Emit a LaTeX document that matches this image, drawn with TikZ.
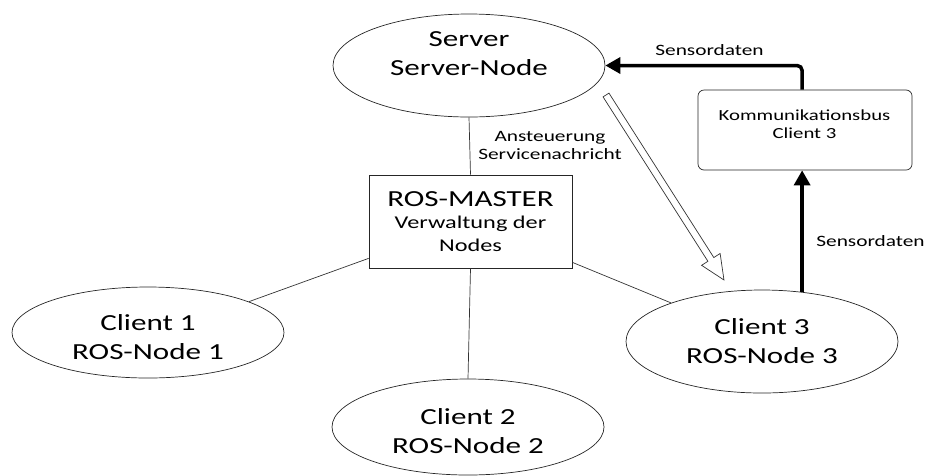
\documentclass[tikz,border=0pt]{standalone}
\usepackage{fontspec}
\setmainfont[FakeStretch=1.35]{Carlito}
\usetikzlibrary{shapes.geometric,arrows.meta,calc}
\newcommand\fbig{\fontsize{23}{29}\selectfont}
\newcommand\fmid{\fontsize{18}{22.5}\selectfont}
\newcommand\fsml{\fontsize{15.8}{17.5}\selectfont}
\newcommand\fbus{\fontsize{15.4}{18}\selectfont}
\begin{document}
\begin{tikzpicture}[x=1pt,y=-1pt,
  ell/.style={ellipse, draw=black!85, line width=0.7pt, inner sep=0pt},
  txt/.style={align=center, inner sep=0pt, text=black},
  conn/.style={line width=0.7pt, draw=black!80},
  thickarrow/.style={line width=3.5pt, -{Triangle[length=15pt,width=16pt]}},
]
\useasboundingbox (0,0) rectangle (925,475);

% ellipses
\node[ell, minimum width=272pt, minimum height=103pt] (server) at (469,65.5) {};
\node[txt, font=\fbig] (serverT) at (469,54) {Server\\Server-Node};

\node[ell, minimum width=272pt, minimum height=91pt] (c1) at (148,332.5) {};
\node[txt, font=\fbig] (c1T) at (148,337.5) {Client 1\\ROS-Node 1};

\node[ell, minimum width=272pt, minimum height=96pt] (c2) at (468,427) {};
\node[txt, font=\fbig] (c2T) at (468,431.5) {Client 2\\ROS-Node 2};

\node[ell, minimum width=272pt, minimum height=103pt] (c3) at (762,341.5) {};
\node[txt, font=\fbig] (c3T) at (762,341.5) {Client 3\\ROS-Node 3};

% master box
\node[draw=black!85, line width=0.7pt, minimum width=203pt, minimum height=93pt,
      align=center, inner sep=0pt, font=\fmid, text=black] (master) at (470.5,221.5)
      {{\fbig ROS-MASTER}\\Verwaltung der\\Nodes};

% bus box
\node[draw=black!85, line width=0.7pt, rounded corners=6pt, minimum width=214pt,
      minimum height=80pt, inner sep=0pt] (bus) at (805,130) {};
\node[txt, font=\fbus] (busT) at (804.5,124) {Kommunikationsbus\\Client 3};

% thin connectors
\draw[conn] (server.south) -- (master.north);
\draw[conn] (master.south) -- (c2.north);
\draw[conn] ($(master.south west)+(0,-10)$) -- (c1.17);
\draw[conn] ($(master.south east)+(0,-6)$) -- (c3.157);

% thick arrows
\draw[thickarrow] (c3.51) -- (c3.51 |- bus.south);
\draw[thickarrow, rounded corners=5pt] (c3.51 |- bus.north) |- (server.east);

% labels
\node[txt, font=\fsml] (lblTop) at (709.5,50.5) {Sensordaten};
\node[txt, font=\fsml] (lblRight) at (870.5,241) {Sensordaten};
\node[txt, font=\fsml] (lblMid) at (550,145.5) {Ansteuerung\\Servicenachricht};

% hollow arrow
\coordinate (hs) at (606,95);
\coordinate (he) at (723,280);
\begin{scope}[shift={(hs)}, rotate=-57.47]
  \draw[conn, fill=white] (0,3.5) -- (195,3.5) -- (195,11) -- (219.4,0)
        -- (195,-11) -- (195,-3.5) -- (0,-3.5) -- cycle;
\end{scope}
\end{tikzpicture}
\end{document}
